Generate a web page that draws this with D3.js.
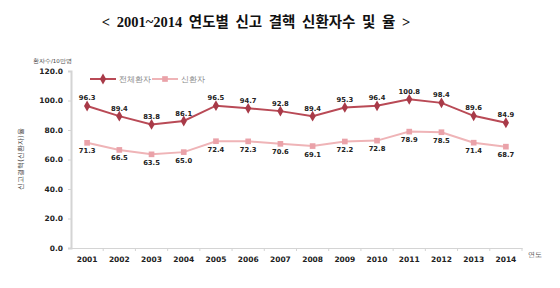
<!DOCTYPE html>
<html>
<head>
<meta charset="utf-8">
<script src="https://cdn.jsdelivr.net/npm/d3@7"></script>
<style>
  body { margin: 0; background: #fff; }
  text { font-family: "DejaVu Sans", sans-serif; }
</style>
</head>
<body>
<div class="chart"></div>
<script>
// data
var years = ["2001", "2002", "2003", "2004", "2005", "2006", "2007",
  "2008", "2009", "2010", "2011", "2012", "2013", "2014"];
var totalPatients = [96.3, 89.4, 83.8, 86.1, 96.5, 94.7, 92.8, 89.4, 95.3, 96.4, 100.8, 98.4, 89.6, 84.9];
var newPatients = [71.3, 66.5, 63.5, 65.0, 72.4, 72.3, 70.6, 69.1, 72.2, 72.8, 78.9, 78.5, 71.4, 68.7];
var yTicks = [0, 20, 40, 60, 80, 100, 120];

var svgWidth = 560;
var svgHeight = 288;

var margin = { top: 71, right: 38, bottom: 40, left: 71 };
var chartWidth = svgWidth - margin.left - margin.right;
var chartHeight = svgHeight - margin.top - margin.bottom;

var svg = d3.select(".chart")
  .append("svg")
  .attr("width", svgWidth)
  .attr("height", svgHeight);

// title
svg.append("text")
  .attr("x", 256)
  .attr("y", 27)
  .attr("text-anchor", "middle")
  .style("font-family", "'Liberation Serif', 'Noto Sans CJK KR', serif")
  .style("font-weight", "bold")
  .style("font-size", "14.5px")
  .style("word-spacing", "3px")
  .attr("fill", "#111")
  .text("< 2001~2014 연도별 신고 결핵 신환자수 및 율 >");

var chartGroup = svg.append("g")
  .attr("transform", `translate(${margin.left}, ${margin.top})`);

var xScale = d3.scaleBand()
  .domain(years)
  .range([0, chartWidth]);

var yScale = d3.scaleLinear()
  .domain([0, 120])
  .range([chartHeight, 0]);

// y axis
var leftAxis = d3.axisLeft(yScale)
  .tickValues(yTicks)
  .tickFormat(d3.format(".1f"))
  .tickSize(3)
  .tickPadding(5);

var yAxis = chartGroup.append("g").call(leftAxis);
yAxis.select(".domain").attr("stroke", "#d4d4d4").attr("stroke-width", 2);
yAxis.selectAll(".tick line").attr("stroke", "#d4d4d4");
yAxis.selectAll(".tick text")
  .style("font-size", "7.5px")
  .style("font-weight", "bold")
  .attr("fill", "#222");

// x axis
var bottomAxis = d3.axisBottom(xScale)
  .tickSize(0)
  .tickPadding(9);

var xAxis = chartGroup.append("g")
  .attr("transform", `translate(0, ${chartHeight})`)
  .call(bottomAxis);
xAxis.select(".domain").attr("stroke", "#d4d4d4").attr("stroke-width", 1.2);
xAxis.selectAll(".tick text")
  .style("font-size", "7.5px")
  .style("font-weight", "bold")
  .attr("fill", "#222");

// x tick marks at band edges
chartGroup.append("g")
  .selectAll("line")
  .data(years)
  .enter()
  .append("line")
  .attr("x1", d => xScale(d) + xScale.bandwidth())
  .attr("x2", d => xScale(d) + xScale.bandwidth())
  .attr("y1", chartHeight)
  .attr("y2", chartHeight + 3)
  .attr("stroke", "#d4d4d4");

// axis titles
svg.append("text")
  .attr("x", 33)
  .attr("y", 63)
  .style("font-size", "5.5px")
  .attr("fill", "#444")
  .text("환자수/10만명");

svg.append("text")
  .attr("transform", "translate(23, 159) rotate(-90)")
  .attr("text-anchor", "middle")
  .style("font-size", "7px")
  .attr("fill", "#444")
  .text("신고결핵(신환자)율");

svg.append("text")
  .attr("x", 535)
  .attr("y", 257)
  .attr("text-anchor", "middle")
  .style("font-size", "6.5px")
  .attr("fill", "#444")
  .text("연도");

var cx = d => xScale(d.year) + xScale.bandwidth() / 2;

var series = [
  { name: "전체환자", values: totalPatients, line: "#b94a56", marker: "#a83a48", shape: d3.symbolDiamond, size: 34, labelDy: -5.5 },
  { name: "신환자", values: newPatients, line: "#efb4b7", marker: "#eaa2a9", shape: d3.symbolSquare, size: 32, labelDy: 10.5 }
];

series.forEach(function(s) {
  var pts = years.map((y, i) => ({ year: y, value: s.values[i] }));

  var line = d3.line()
    .x(cx)
    .y(d => yScale(d.value));

  chartGroup.append("path")
    .datum(pts)
    .attr("d", line)
    .attr("fill", "none")
    .attr("stroke", s.line)
    .attr("stroke-width", 2);

  chartGroup.selectAll(null)
    .data(pts)
    .enter()
    .append("path")
    .attr("d", d3.symbol().type(s.shape).size(s.size))
    .attr("transform", d => `translate(${cx(d)}, ${yScale(d.value)})`)
    .attr("fill", s.marker);

  chartGroup.selectAll(null)
    .data(pts)
    .enter()
    .append("text")
    .attr("x", cx)
    .attr("y", d => yScale(d.value) + s.labelDy)
    .attr("text-anchor", "middle")
    .style("font-size", "6.8px")
    .style("font-weight", "bold")
    .attr("fill", "#222")
    .text(d => d.value.toFixed(1));
});

// legend
var legend = svg.append("g");
var legendItems = [
  { x: 90, s: series[0] },
  { x: 152, s: series[1] }
];
legendItems.forEach(function(item) {
  legend.append("line")
    .attr("x1", item.x)
    .attr("x2", item.x + 26)
    .attr("y1", 79)
    .attr("y2", 79)
    .attr("stroke", item.s.line)
    .attr("stroke-width", 2);
  legend.append("path")
    .attr("d", d3.symbol().type(item.s.shape).size(item.s.size))
    .attr("transform", `translate(${item.x + 13}, 79)`)
    .attr("fill", item.s.marker);
  legend.append("text")
    .attr("x", item.x + 29)
    .attr("y", 82)
    .style("font-size", "8px")
    .attr("fill", "#888")
    .text(item.s.name);
});
</script>
</body>
</html>
